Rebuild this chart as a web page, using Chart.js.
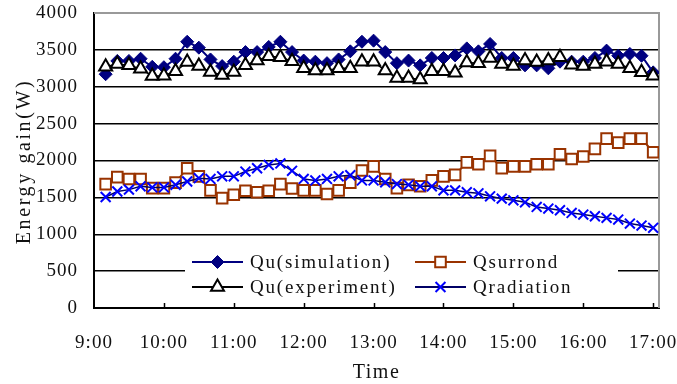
<!DOCTYPE html>
<html>
<head>
<meta charset="utf-8">
<script src="https://cdn.jsdelivr.net/npm/chart.js@4/dist/chart.umd.min.js"></script>
<style>
    html, body { margin: 0; padding: 0; background: #fff; }
    #wrap { width: 677px; height: 384px; }
</style>
</head>
<body>
<div id="wrap"><canvas id="energyChart" width="677" height="384"></canvas></div>
<script>
// sample times, every 10 minutes
const times = [
    '9:10', '9:20', '9:30', '9:40', '9:50', '10:00',
    '10:10', '10:20', '10:30', '10:40', '10:50', '11:00',
    '11:10', '11:20', '11:30', '11:40', '11:50', '12:00',
    '12:10', '12:20', '12:30', '12:40', '12:50', '13:00',
    '13:10', '13:20', '13:30', '13:40', '13:50', '14:00',
    '14:10', '14:20', '14:30', '14:40', '14:50', '15:00',
    '15:10', '15:20', '15:30', '15:40', '15:50', '16:00',
    '16:10', '16:20', '16:30', '16:40', '16:50', '17:00'
];
const hourLabels = ['9:00', '10:00', '11:00', '12:00', '13:00', '14:00', '15:00', '16:00', '17:00'];
const yTicks = [0, 500, 1000, 1500, 2000, 2500, 3000, 3500, 4000];

const quSimulation = [
    3170, 3350, 3350, 3380, 3270, 3265, 3380, 3610, 3530, 3370, 3280, 3340,
    3470, 3470, 3540, 3610, 3470, 3355, 3340, 3320, 3370, 3480, 3610, 3625,
    3470, 3320, 3355, 3290, 3390, 3390, 3425, 3520, 3480, 3580, 3390, 3390,
    3290, 3290, 3250, 3340, 3340, 3340, 3390, 3490, 3420, 3445, 3420, 3195
];
const qSurrond = [
    1680, 1775, 1750, 1750, 1625, 1625, 1700, 1895, 1785, 1595, 1490, 1535,
    1590, 1570, 1590, 1680, 1620, 1595, 1595, 1545, 1595, 1700, 1865, 1920,
    1750, 1625, 1670, 1650, 1730, 1785, 1805, 1975, 1950, 2063, 1897, 1920,
    1920, 1950, 1950, 2085, 2020, 2055, 2157, 2297, 2243, 2297, 2297, 2112
];
const quExperiment = [
    3270, 3310, 3290, 3245, 3145, 3150, 3210, 3335, 3280, 3200, 3160, 3200,
    3290, 3355, 3415, 3400, 3345, 3250, 3220, 3220, 3250, 3250, 3340, 3340,
    3220, 3120, 3120, 3100, 3210, 3210, 3190, 3330, 3320, 3390, 3310, 3280,
    3355, 3335, 3355, 3400, 3300, 3280, 3310, 3340, 3310, 3250, 3195, 3150
];
const qRadiation = [
    1505, 1580, 1605, 1650, 1635, 1635, 1670, 1715, 1760, 1750, 1785, 1785,
    1850, 1895, 1940, 1960, 1860, 1750, 1730, 1750, 1785, 1800, 1730, 1730,
    1705, 1680, 1670, 1650, 1650, 1595, 1595, 1570, 1555, 1514, 1483, 1460,
    1433, 1370, 1348, 1325, 1289, 1267, 1244, 1222, 1199, 1145, 1118, 1087
];

const FONT = "'Liberation Serif', 'DejaVu Serif', serif";
const TEXT_COLOR = '#111';

function toMinutes(t) {
    const parts = t.split(':');
    return parseInt(parts[0], 10) * 60 + parseInt(parts[1], 10);
}

function toPoints(values) {
    return values.map((v, i) => ({ x: toMinutes(times[i]), y: v }));
}

const startMin = toMinutes(hourLabels[0]);

// white background, plot border, inward ticks, legend, axis titles
const decorPlugin = {
    id: 'decor',
    beforeDraw(chart) {
        const ctx = chart.ctx;
        ctx.save();
        ctx.fillStyle = '#fff';
        ctx.fillRect(0, 0, chart.width, chart.height);
        ctx.restore();
        ctx.letterSpacing = '1px';
    },
    beforeDatasetsDraw(chart) {
        const ctx = chart.ctx;
        const ca = chart.chartArea;
        const xs = chart.scales.x;
        ctx.save();
        ctx.strokeStyle = '#999';
        ctx.lineWidth = 2;
        ctx.beginPath();
        ctx.moveTo(ca.left, ca.top);
        ctx.lineTo(ca.right, ca.top);
        ctx.lineTo(ca.right, ca.bottom);
        ctx.stroke();

        ctx.strokeStyle = '#000';
        ctx.lineWidth = 1.5;
        xs.ticks.forEach(t => {
            const px = Math.round(xs.getPixelForValue(t.value)) + 0.5;
            if (px < ca.left + 3) return;
            ctx.beginPath();
            ctx.moveTo(px, ca.bottom);
            ctx.lineTo(px, ca.bottom - 5);
            ctx.stroke();
        });
        ctx.restore();
    },
    afterDatasetsDraw(chart) {
        const ctx = chart.ctx;
        const ca = chart.chartArea;
        const boxLeft = ca.left + 91;
        const boxTop = ca.bottom - 59;
        ctx.save();
        ctx.fillStyle = '#fff';
        ctx.fillRect(boxLeft, boxTop, 433, 52);

        const cols = [ca.left + 98, ca.left + 321];
        const rows = [ca.bottom - 46, ca.bottom - 21];
        chart.data.datasets.forEach((ds, i) => {
            const x0 = cols[i % 2];
            const y0 = rows[Math.floor(i / 2)];
            ctx.strokeStyle = ds.borderColor;
            ctx.lineWidth = 2;
            ctx.beginPath();
            ctx.moveTo(x0, y0);
            ctx.lineTo(x0 + 51, y0);
            ctx.stroke();

            ctx.fillStyle = ds.pointBackgroundColor;
            ctx.strokeStyle = ds.pointBorderColor;
            ctx.lineWidth = ds.pointBorderWidth;
            Chart.helpers.drawPoint(ctx, {
                pointStyle: ds.pointStyle,
                radius: ds.pointRadius,
                borderWidth: ds.pointBorderWidth,
                rotation: 0
            }, x0 + 25.5, y0);

            ctx.fillStyle = TEXT_COLOR;
            ctx.font = '19px ' + FONT;
            ctx.letterSpacing = '1.8px';
            ctx.textAlign = 'left';
            ctx.textBaseline = 'middle';
            ctx.fillText(ds.label, x0 + 58, y0 + 1);
        });
        ctx.restore();
    },
    afterDraw(chart) {
        const ctx = chart.ctx;
        const ca = chart.chartArea;
        ctx.save();
        ctx.fillStyle = TEXT_COLOR;
        ctx.font = '20px ' + FONT;
        ctx.textAlign = 'center';
        ctx.textBaseline = 'middle';
        ctx.letterSpacing = '1.5px';
        ctx.fillText('Time', (ca.left + ca.right) / 2, 373);

        ctx.translate(25, (ca.top + ca.bottom) / 2 + 1);
        ctx.rotate(-Math.PI / 2);
        ctx.letterSpacing = '2.6px';
        ctx.fillText('Energy gain(W)', 0, 0);
        ctx.restore();
        ctx.letterSpacing = '0px';
    }
};

const ctx = document.getElementById('energyChart').getContext('2d');

new Chart(ctx, {
    type: 'line',
    data: {
        datasets: [
            {
                label: 'Qu(simulation)',
                data: toPoints(quSimulation),
                borderColor: '#000080',
                borderWidth: 2,
                pointStyle: 'rectRot',
                pointRadius: 6.5,
                pointBackgroundColor: '#000080',
                pointBorderColor: '#000080',
                pointBorderWidth: 1,
                order: 4
            },
            {
                label: 'Qsurrond',
                data: toPoints(qSurrond),
                borderColor: '#993300',
                borderWidth: 2,
                pointStyle: 'rect',
                pointRadius: 7.5,
                pointBackgroundColor: '#ffffff',
                pointBorderColor: '#993300',
                pointBorderWidth: 2,
                order: 3
            },
            {
                label: 'Qu(experiment)',
                data: toPoints(quExperiment),
                borderColor: '#000000',
                borderWidth: 1.5,
                pointStyle: 'triangle',
                pointRadius: 7.5,
                pointBackgroundColor: '#ffffff',
                pointBorderColor: '#000000',
                pointBorderWidth: 2,
                order: 2
            },
            {
                label: 'Qradiation',
                data: toPoints(qRadiation),
                borderColor: '#000066',
                borderWidth: 1.5,
                pointStyle: 'crossRot',
                pointRadius: 7,
                pointBackgroundColor: '#0000ff',
                pointBorderColor: '#0000ff',
                pointBorderWidth: 2,
                order: 1
            }
        ]
    },
    options: {
        responsive: false,
        animation: false,
        layout: {
            padding: { top: 13, right: 18, left: 0, bottom: 0 }
        },
        elements: {
            line: { tension: 0 }
        },
        plugins: {
            legend: { display: false },
            tooltip: { enabled: false }
        },
        scales: {
            x: {
                type: 'linear',
                min: startMin,
                max: startMin + 485,
                afterFit: scale => {
                    scale.height = 76;
                    scale.paddingLeft = 0;
                    scale.paddingRight = 0;
                },
                grid: { display: false },
                border: { display: true, color: '#000', width: 2 },
                ticks: {
                    stepSize: 60,
                    includeBounds: false,
                    autoSkip: false,
                    maxRotation: 0,
                    padding: 16,
                    color: TEXT_COLOR,
                    font: { family: FONT, size: 19 },
                    callback: value => hourLabels[(value - startMin) / 60]
                }
            },
            y: {
                min: yTicks[0],
                max: yTicks[yTicks.length - 1],
                afterFit: scale => {
                    scale.width = 94;
                    scale.paddingTop = 0;
                    scale.paddingBottom = 0;
                },
                afterBuildTicks: scale => { scale.ticks = yTicks.map(v => ({ value: v })); },
                grid: {
                    drawTicks: false,
                    color: c => (c.tick && c.tick.value === 4000) ? 'rgba(0,0,0,0)' : '#000',
                    lineWidth: 1.5
                },
                border: { display: true, color: '#000', width: 2 },
                ticks: {
                    padding: 16,
                    color: TEXT_COLOR,
                    font: { family: FONT, size: 19 },
                    callback: value => String(value)
                }
            }
        }
    },
    plugins: [decorPlugin]
});
</script>
</body>
</html>
